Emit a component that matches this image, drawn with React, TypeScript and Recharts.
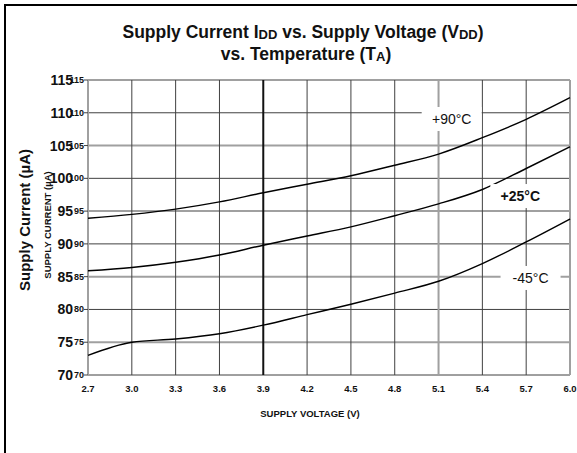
import React from "react";
import {
  LineChart,
  Line,
  XAxis,
  YAxis,
  ReferenceLine,
  ReferenceDot,
} from "recharts";

const VOLTAGE = [2.7, 3.0, 3.3, 3.6, 3.9, 4.2, 4.5, 4.8, 5.1, 5.4, 5.7, 6.0];
const IDD_90C = [93.9, 94.5, 95.3, 96.4, 97.8, 99.1, 100.4, 102.0, 103.7, 106.2, 109.0, 112.3];
const IDD_25C = [85.9, 86.4, 87.2, 88.3, 89.8, 91.2, 92.6, 94.3, 96.1, 98.3, 101.5, 104.8];
const IDD_M45C = [73.0, 75.0, 75.5, 76.3, 77.6, 79.2, 80.8, 82.5, 84.3, 87.0, 90.3, 93.8];
const Y_TICKS = [70, 75, 80, 85, 90, 95, 100, 105, 110, 115];

const CURVE_LABELS = [
  { text: "+90°C", x: 5.19, y: 109.05, bold: false },
  { text: "+25°C", x: 5.66, y: 97.3, bold: true },
  { text: "-45°C", x: 5.73, y: 84.8, bold: false },
];

const FONT = '"Liberation Sans", Arial, Helvetica, sans-serif';

const data = VOLTAGE.map((v, i) => ({
  v,
  t90: IDD_90C[i],
  t25: IDD_25C[i],
  tm45: IDD_M45C[i],
}));

// gray vs dark grid lines, like the scanned datasheet
const xGridStyle = (v: number) => {
  if (v === 3.9) return { stroke: "#111", strokeWidth: 2 };
  if (v === 2.7 || v === 5.1 || v === 6.0) return { stroke: "#a0a0a0", strokeWidth: 2 };
  return { stroke: "#404040", strokeWidth: 1 };
};
const yGridStyle = (v: number) =>
  v % 10 === 5 ? { stroke: "#a0a0a0", strokeWidth: 2 } : { stroke: "#404040", strokeWidth: 1 };

const YTick = (props: any) => {
  const { x, y, payload } = props;
  return (
    <g>
      <text x={x - 15} y={y} dy={5} textAnchor="end" fontFamily={FONT} fontWeight="bold" fontSize={14} fill="#111">
        {payload.value}
      </text>
      <text x={x - 4} y={y} dy={3} textAnchor="end" fontFamily={FONT} fontWeight="bold" fontSize={9} fill="#111">
        {payload.value}
      </text>
      <line x1={x - 4} x2={x} y1={y} y2={y} stroke="#404040" />
    </g>
  );
};

const XTick = (props: any) => {
  const { x, y, payload } = props;
  return (
    <text x={x} y={y + 17} textAnchor="middle" fontFamily={FONT} fontWeight="bold" fontSize={9.5} fill="#111">
      {payload.value.toFixed(1)}
    </text>
  );
};

const CurveLabel = (props: any) => {
  const { cx, cy, label } = props;
  return (
    <g>
      <rect x={cx - 30} y={cy - 12} width={60} height={24} fill="#fff" />
      <text
        x={cx}
        y={cy + 5}
        textAnchor="middle"
        fontFamily={FONT}
        fontSize={14}
        fontWeight={label.bold ? "bold" : "normal"}
        fill="#111"
      >
        {label.text}
      </text>
    </g>
  );
};

export default function App() {
  return (
    <div style={{ position: "absolute", left: 0, top: 0, width: 577, height: 453, overflow: "hidden", background: "#fff" }}>
      <LineChart
        width={577}
        height={453}
        data={data}
        margin={{ top: 80, right: 7, bottom: 48, left: 8 }}
      >
        <XAxis
          dataKey="v"
          type="number"
          domain={[2.7, 6.0]}
          ticks={VOLTAGE}
          tickSize={0}
          tickMargin={0}
          axisLine={false}
          tick={<XTick />}
          height={30}
        />
        <YAxis
          type="number"
          domain={[70, 115]}
          ticks={Y_TICKS}
          tickSize={0}
          tickMargin={0}
          axisLine={false}
          tick={<YTick />}
          width={80}
        />
        {Y_TICKS.map((t) => (
          <ReferenceLine key={"y" + t} y={t} {...yGridStyle(t)} />
        ))}
        {VOLTAGE.map((t) => (
          <ReferenceLine key={"x" + t} x={t} {...xGridStyle(t)} />
        ))}
        <Line dataKey="t90" type="monotone" stroke="#000" strokeWidth={1.4} dot={false} isAnimationActive={false} />
        <Line dataKey="t25" type="monotone" stroke="#000" strokeWidth={1.4} dot={false} isAnimationActive={false} />
        <Line dataKey="tm45" type="monotone" stroke="#000" strokeWidth={1.4} dot={false} isAnimationActive={false} />
        {CURVE_LABELS.map((l) => (
          <ReferenceDot
            key={l.text}
            x={l.x}
            y={l.y}
            r={0}
            shape={(p: any) => <CurveLabel {...p} label={l} />}
          />
        ))}
      </LineChart>
      <svg width={577} height={453} style={{ position: "absolute", left: 0, top: 0, pointerEvents: "none" }}>
        <rect x={5} y={5} width={600} height={500} fill="none" stroke="#000" strokeWidth={2} />
        <text x={303} y={38} textAnchor="middle" fontFamily={FONT} fontWeight="bold" fontSize={17.5} fill="#111">
          Supply Current I<tspan fontSize={13} dy={1}>DD</tspan>
          <tspan dy={-1}> vs. Supply Voltage (V</tspan>
          <tspan fontSize={13} dy={1}>DD</tspan>
          <tspan dy={-1}>)</tspan>
        </text>
        <text x={306} y={60} textAnchor="middle" fontFamily={FONT} fontWeight="bold" fontSize={17.5} fill="#111">
          vs. Temperature (T<tspan fontSize={13} dy={1}>A</tspan>
          <tspan dy={-1}>)</tspan>
        </text>
        <text
          transform="translate(30,220) rotate(-90)"
          textAnchor="middle"
          fontFamily={FONT}
          fontWeight="bold"
          fontSize={15}
          fill="#111"
        >
          Supply Current  (µA)
        </text>
        <text
          transform="translate(51,225) rotate(-90)"
          textAnchor="middle"
          fontFamily={FONT}
          fontWeight="bold"
          fontSize={9.5}
          fill="#111"
        >
          SUPPLY CURRENT (µA)
        </text>
        <text x={310} y={417} textAnchor="middle" fontFamily={FONT} fontWeight="bold" fontSize={9.5} fill="#111">
          SUPPLY VOLTAGE (V)
        </text>
      </svg>
    </div>
  );
}
